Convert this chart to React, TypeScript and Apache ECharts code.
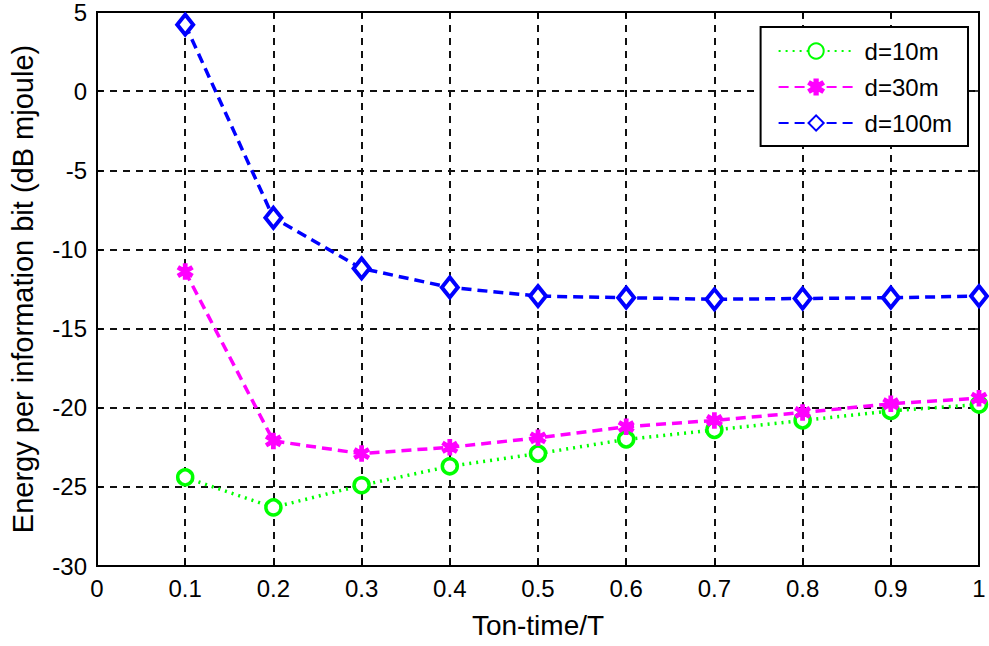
import React, { useEffect, useRef } from "react";
import * as echarts from "echarts";

const xValues = [0.1, 0.2, 0.3, 0.4, 0.5, 0.6, 0.7, 0.8, 0.9, 1.0];
const d10 = [-24.4, -26.3, -24.9, -23.7, -22.9, -22.0, -21.4, -20.8, -20.2, -19.8];
const d30 = [-11.4, -22.1, -22.9, -22.5, -21.9, -21.2, -20.8, -20.3, -19.75, -19.4];
const d100 = [4.2, -8.0, -11.2, -12.4, -12.95, -13.05, -13.15, -13.1, -13.05, -12.95];
const seriesNames = ["d=10m", "d=30m", "d=100m"];

const FONT = "Liberation Sans, Arial, sans-serif";

export default function App() {
  const ref = useRef<HTMLDivElement>(null);
  useEffect(() => {
    if (!ref.current) return;
    const chart = echarts.init(ref.current, undefined, { renderer: "svg" });
    const pairs = (ys: number[]) => xValues.map((x, i) => [x, ys[i]]);
    const gridLine = { show: true, lineStyle: { color: "#111", type: [7, 6] as any, width: 2 } };
    const tick = { show: true, inside: true, length: 6, lineStyle: { color: "#000", width: 1.5 } };
    const axisLine = { show: true, onZero: false, lineStyle: { color: "#000", width: 2 } };
    const option: any = {
      animation: false,
      backgroundColor: "#fff",
      textStyle: { fontFamily: FONT },
      grid: {
        left: 97,
        right: 10,
        top: 12,
        bottom: 80,
        show: true,
        borderColor: "#000",
        borderWidth: 2,
        backgroundColor: "transparent",
      },
      legend: {
        orient: "vertical",
        right: 21,
        top: 27,
        backgroundColor: "#fff",
        borderColor: "#000",
        borderWidth: 2,
        padding: [12, 16, 11, 17],
        itemGap: 12,
        itemWidth: 75,
        itemHeight: 19,
        textStyle: { fontFamily: FONT, fontSize: 24, color: "#000", padding: [0, 0, 0, 6] },
        data: seriesNames,
      },
      xAxis: [
        {
          type: "value",
          min: 0,
          max: 1,
          interval: 0.1,
          name: "Ton-time/T",
          nameLocation: "middle",
          nameGap: 45,
          nameTextStyle: { fontFamily: FONT, fontSize: 28, color: "#000" },
          axisLine,
          axisTick: tick,
          axisLabel: {
            fontFamily: FONT,
            fontSize: 24,
            color: "#000",
            margin: 10,
            formatter: (v: number) => String(Math.round(v * 10) / 10),
          },
          splitLine: gridLine,
        },
        {
          type: "value",
          position: "top",
          min: 0,
          max: 1,
          interval: 0.1,
          axisLine,
          axisTick: tick,
          axisLabel: { show: false },
          splitLine: { show: false },
        },
      ],
      yAxis: [
        {
          type: "value",
          min: -30,
          max: 5,
          interval: 5,
          name: "Energy per information bit (dB mjoule)",
          nameLocation: "middle",
          nameGap: 60,
          nameTextStyle: { fontFamily: FONT, fontSize: 29, color: "#000" },
          axisLine,
          axisTick: tick,
          axisLabel: { fontFamily: FONT, fontSize: 24, color: "#000", margin: 10 },
          splitLine: gridLine,
        },
        {
          type: "value",
          position: "right",
          min: -30,
          max: 5,
          interval: 5,
          axisLine,
          axisTick: tick,
          axisLabel: { show: false },
          splitLine: { show: false },
        },
      ],
      series: [
        {
          name: seriesNames[0],
          type: "line",
          data: pairs(d10),
          symbol: "circle",
          symbolSize: 15,
          showSymbol: true,
          lineStyle: { color: "#00ff00", width: 3.5, type: [2, 5] },
          itemStyle: { color: "#fff", borderColor: "#00ff00", borderWidth: 3.5 },
          z: 3,
        },
        {
          name: seriesNames[1],
          type: "line",
          data: pairs(d30),
          symbol:
            "path://M4,0 L6,0 L6,3 L8.6,1.4 L9.6,3.2 L7,5 L9.6,6.8 L8.6,8.6 L6,7 L6,10 L4,10 L4,7 L1.4,8.6 L0.4,6.8 L3,5 L0.4,3.2 L1.4,1.4 L4,3 Z",
          symbolSize: 15,
          lineStyle: { color: "#ff00ff", width: 3.5, type: [10, 6] },
          itemStyle: { color: "#ff00ff", borderColor: "#ff00ff", borderWidth: 1.5 },
          z: 4,
        },
        {
          name: seriesNames[2],
          type: "line",
          data: pairs(d100),
          symbol: "diamond",
          symbolSize: [16, 20],
          lineStyle: { color: "#0000ff", width: 3.5, type: [10, 6] },
          itemStyle: { color: "#fff", borderColor: "#0000ff", borderWidth: 4 },
          z: 5,
        },
      ],
    };
    chart.setOption(option);
    return () => chart.dispose();
  }, []);
  return <div ref={ref} style={{ width: 989, height: 646, position: "absolute", left: 0, top: 0 }} />;
}
